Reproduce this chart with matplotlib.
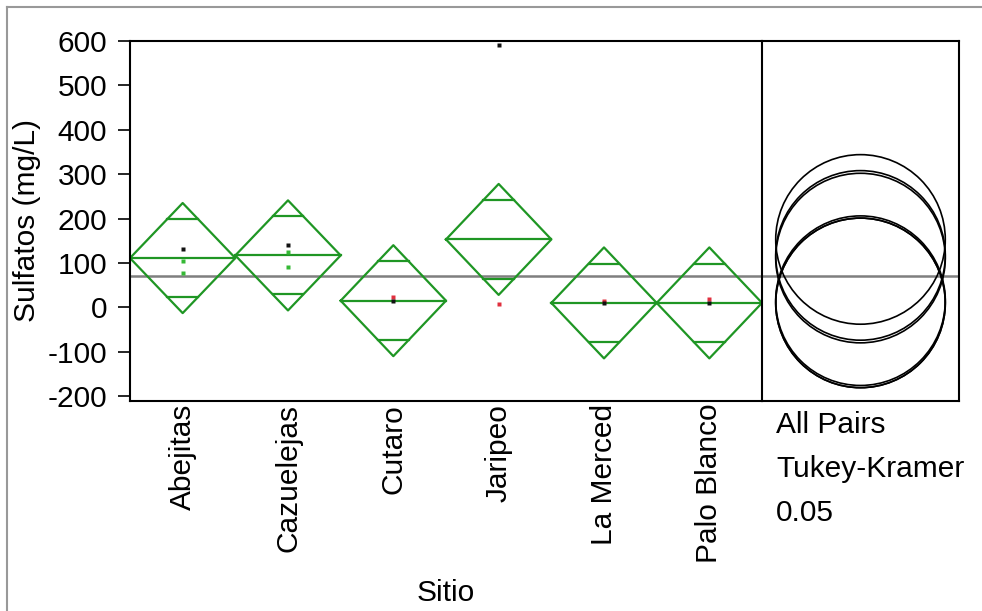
import numpy as np
import matplotlib
matplotlib.use('Agg')
import matplotlib.pyplot as plt
from matplotlib.patches import Ellipse
from matplotlib.lines import Line2D

plt.rcParams['font.family'] = ['Liberation Sans', 'DejaVu Sans']
plt.rcParams['axes.unicode_minus'] = False

sitios = ['Abejitas', 'Cazuelejas', 'Cutaro', 'Jaripeo', 'La Merced', 'Palo Blanco']
medias = [111, 117, 15, 153, 10, 10]
ic95 = [124, 124, 125, 125, 125, 125]   # media +/- ic95 = puntas del diamante
media_global = 70
radio_tk = 191                           # radio de los circulos Tukey-Kramer

# puntos observados: (sitio, valor, color)
pts_sitio = [0, 0, 0, 1, 1, 1, 2, 2, 3, 3, 4, 4, 5, 5]
pts_valor = [131, 105, 77, 141, 125, 90, 23, 15, 591, 8, 15, 9, 18, 10]
pts_color = ['k', 'g', 'g', 'k', 'g', 'g', 'r', 'k', 'k', 'r', 'r', 'k', 'r', 'k']
colores = {'k': '#111111', 'g': '#35b935', 'r': '#e0303f'}

verde = '#1f9624'
fs = 21.5
W, H = 982, 611
fig = plt.figure(figsize=(W / 100, H / 100), dpi=100)

x0, x1, x2 = 130, 762, 959
ytop, ybot = 41, 401
ax = fig.add_axes([x0 / W, 1 - ybot / H, (x1 - x0) / W, (ybot - ytop) / H])
axc = fig.add_axes([x1 / W, 1 - ybot / H, (x2 - x1) / W, (ybot - ytop) / H], sharey=ax)

ylo, yhi = -211, 600
ax.set_ylim(ylo, yhi)
ax.set_xlim(0, len(sitios))

for i, (m, h) in enumerate(zip(medias, ic95)):
    c = i + 0.5
    ax.plot([c - 0.5, c, c + 0.5, c, c - 0.5], [m, m + h, m, m - h, m], color=verde, lw=1.6)
    ax.plot([c - 0.5, c + 0.5], [m, m], color=verde, lw=1.6)
    d = h / np.sqrt(2)
    f = 0.5 * (1 - 1 / np.sqrt(2))
    for s in (1, -1):
        ax.plot([c - f, c + f], [m + s * d, m + s * d], color=verde, lw=1.6)

for s, v, col in zip(pts_sitio, pts_valor, pts_color):
    ax.plot(s + 0.5, v, 's', ms=3.3, color=colores[col], mec='none', zorder=5)

ax.axhline(media_global, color='#7f7f7f', lw=1.8, zorder=1)
axc.axhline(media_global, color='#7f7f7f', lw=1.8, zorder=1)

ax.set_yticks([-200, -100, 0, 100, 200, 300, 400, 500, 600])
ax.set_xticks([i + 0.5 for i in range(len(sitios))])
ax.set_xticklabels(sitios, rotation=90, va='top', ha='center')
ax.tick_params(axis='y', length=8.5, width=1.2, pad=8, labelsize=fs)
ax.tick_params(axis='x', length=0, pad=2, labelsize=fs)
ax.set_ylabel('Sulfatos (mg/L)', fontsize=fs, labelpad=5)
ax.set_xlabel('Sitio', fontsize=fs, labelpad=11)
for sp in ax.spines.values():
    sp.set_linewidth(1.5)
ax.spines['right'].set_visible(False)

# panel de circulos
axc.set_xlim(0, 1)
px_y = (ybot - ytop) / (yhi - ylo)
ancho = 2 * radio_tk * px_y / (x2 - x1)
for m in medias:
    axc.add_patch(Ellipse((0.5, m), ancho, 2 * radio_tk, fill=False, ec='black', lw=1.2))
axc.tick_params(left=False, labelleft=False, bottom=False, labelbottom=False)
for sp in axc.spines.values():
    sp.set_linewidth(1.5)

for k, t in enumerate(['All Pairs', 'Tukey-Kramer', '0.05']):
    fig.text(776 / W, 1 - (425 + 44 * k) / H, t, fontsize=fs, va='center', ha='left')

# marco exterior
fig.add_artist(Line2D([7 / W, 7 / W], [0, 1 - 7 / H], transform=fig.transFigure, color='#999999', lw=1.5))
fig.add_artist(Line2D([7 / W, 1], [1 - 7 / H, 1 - 7 / H], transform=fig.transFigure, color='#999999', lw=1.5))

fig.savefig('out.png', dpi=100)
